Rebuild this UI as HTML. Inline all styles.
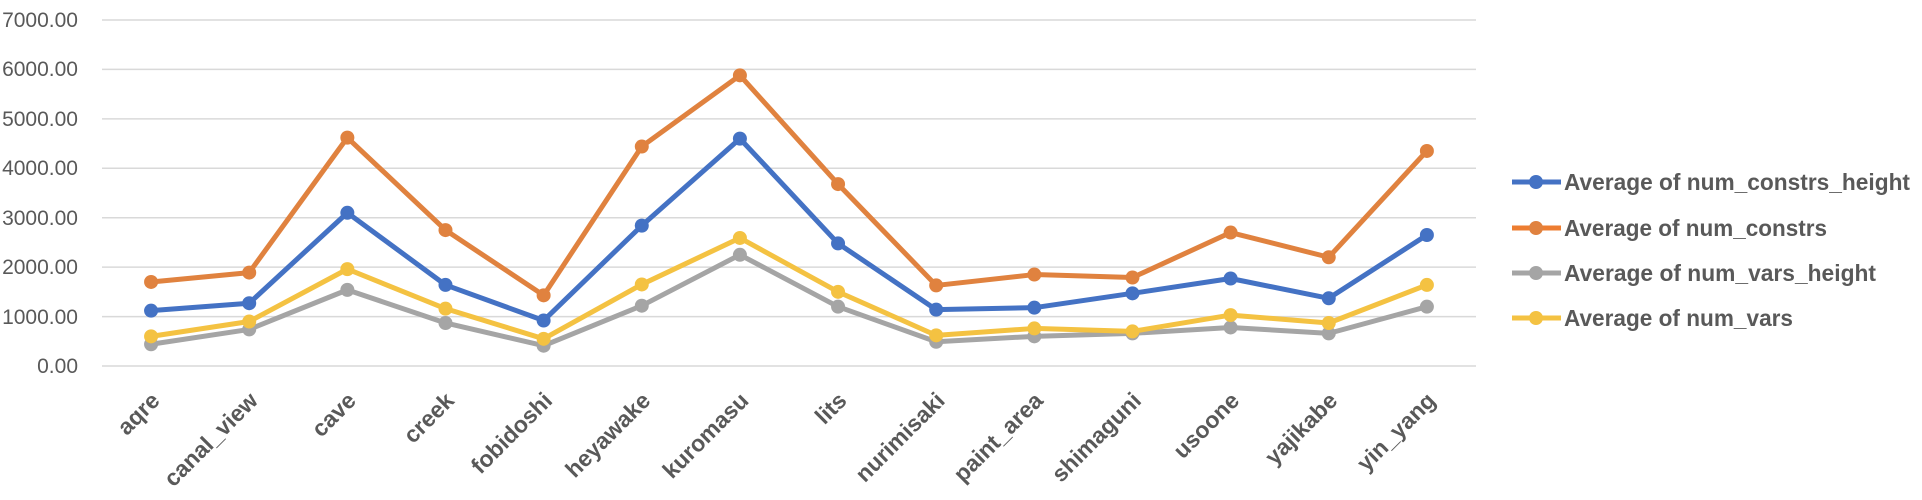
<!DOCTYPE html>
<html><head><meta charset="utf-8"><style>body{margin:0;background:#fff}svg{display:block}</style></head>
<body>
<svg width="1922" height="500" xmlns="http://www.w3.org/2000/svg" font-family="Liberation Sans, sans-serif">
<g stroke="#d9d9d9" stroke-width="1.5">
<line x1="102" x2="1476" y1="20" y2="20"/><line x1="102" x2="1476" y1="69.4" y2="69.4"/><line x1="102" x2="1476" y1="118.9" y2="118.9"/><line x1="102" x2="1476" y1="168.3" y2="168.3"/><line x1="102" x2="1476" y1="217.7" y2="217.7"/><line x1="102" x2="1476" y1="267.1" y2="267.1"/><line x1="102" x2="1476" y1="316.6" y2="316.6"/><line x1="102" x2="1476" y1="366" y2="366"/>
</g>
<g fill="#595959" font-size="21" text-anchor="end">
<text x="78" y="27">7000.00</text><text x="78" y="76">6000.00</text><text x="78" y="126">5000.00</text><text x="78" y="175">4000.00</text><text x="78" y="225">3000.00</text><text x="78" y="274">2000.00</text><text x="78" y="324">1000.00</text><text x="78" y="373">0.00</text>
</g>
<g id="xl" fill="#595959" font-size="23" font-weight="bold" text-anchor="end"></g>
<g id="series"></g>
<g font-size="23" font-weight="bold" fill="#595959">
<line x1="1512" x2="1561" y1="182" y2="182" stroke="#4472c4" stroke-width="5"/><circle cx="1536" cy="182" r="7" fill="#4472c4"/>
<text x="1564" y="190" textLength="346" lengthAdjust="spacingAndGlyphs">Average of num_constrs_height</text>
<line x1="1512" x2="1561" y1="228" y2="228" stroke="#ed7d31" stroke-width="5"/><circle cx="1536" cy="228" r="7" fill="#e0823f"/>
<text x="1564" y="236" textLength="263" lengthAdjust="spacingAndGlyphs">Average of num_constrs</text>
<line x1="1512" x2="1561" y1="273" y2="273" stroke="#a5a5a5" stroke-width="5"/><circle cx="1536" cy="273" r="7" fill="#a5a5a5"/>
<text x="1564" y="281" textLength="312" lengthAdjust="spacingAndGlyphs">Average of num_vars_height</text>
<line x1="1512" x2="1561" y1="318" y2="318" stroke="#f4c242" stroke-width="5"/><circle cx="1536" cy="318" r="7" fill="#f4c242"/>
<text x="1564" y="326" textLength="229" lengthAdjust="spacingAndGlyphs">Average of num_vars</text>
</g>
</svg>
<script>
var ns="http://www.w3.org/2000/svg";
var cats=["aqre","canal_view","cave","creek","fobidoshi","heyawake","kuromasu","lits","nurimisaki","paint_area","shimaguni","usoone","yajikabe","yin_yang"];
var X=i=>102+98.14*(i+0.5), Y=v=>366-v*0.04943;
var xl=document.getElementById("xl");
cats.forEach((c,i)=>{var t=document.createElementNS(ns,"text");var x=X(i)+10,y=402;t.setAttribute("x",x);t.setAttribute("y",y);t.setAttribute("transform","rotate(-45 "+x+" "+y+")");t.textContent=c;xl.appendChild(t);});
var S=[
["#a5a5a5",[440,740,1540,870,410,1220,2250,1200,490,600,660,780,660,1200]],
["#f4c242",[600,900,1960,1160,550,1650,2590,1500,620,760,700,1030,870,1640]],
["#4472c4",[1120,1270,3100,1640,920,2840,4600,2480,1140,1180,1470,1770,1370,2650]],
["#e0823f",[1700,1890,4620,2750,1430,4440,5880,3680,1630,1850,1790,2700,2200,4350]]];
var g=document.getElementById("series");
S.forEach(s=>{var p=document.createElementNS(ns,"polyline");p.setAttribute("points",s[1].map((v,i)=>X(i)+","+Y(v)).join(" "));p.setAttribute("fill","none");p.setAttribute("stroke",s[0]);p.setAttribute("stroke-width","5");p.setAttribute("stroke-linejoin","round");g.appendChild(p);
s[1].forEach((v,i)=>{var c=document.createElementNS(ns,"circle");c.setAttribute("cx",X(i));c.setAttribute("cy",Y(v));c.setAttribute("r","7");c.setAttribute("fill",s[0]);g.appendChild(c);});});
</script>
</body></html>
